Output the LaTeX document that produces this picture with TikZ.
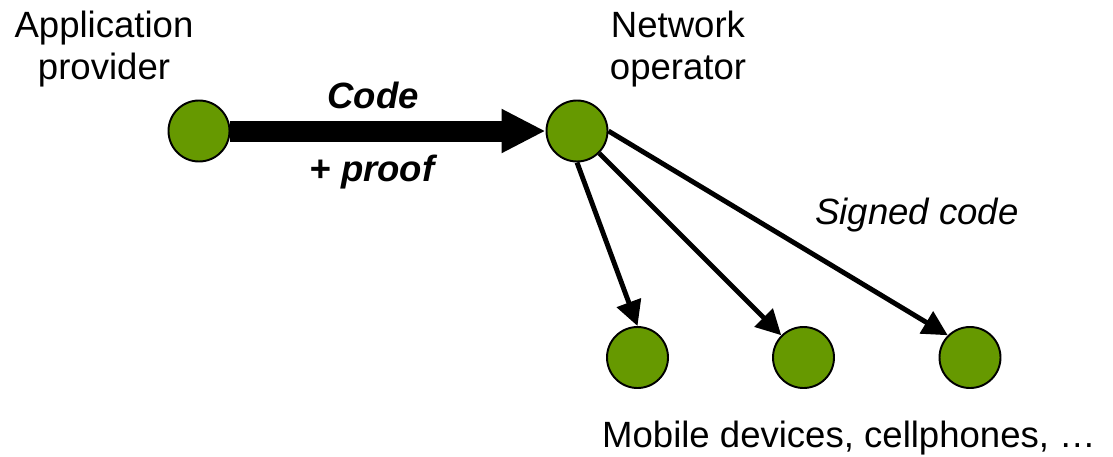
\documentclass[tikz,border=0pt]{standalone}
\usepackage{fontspec}
\setmainfont{Liberation Sans}
\usetikzlibrary{arrows.meta}
\definecolor{leaf}{HTML}{669900}
\tikzset{
	party/.style={circle, draw=black, line width=1.1pt, fill=leaf, minimum size=1.22cm, inner sep=0pt},
	caption/.style={align=center, font=\fontsize{20.8}{23.6}\selectfont},
	push/.style={line width=2.8pt, -{Triangle[length=0.5cm,width=0.5cm]}}
}
\begin{document}
\begin{tikzpicture}
				\useasboundingbox (0,0) rectangle (22.26,-9.12);
				% the parties
				\node[party] (prov) at (3.98,-2.62) {};
				\node[party] (op) at (11.54,-2.62) {};
				\node[party] (d1) at (12.75,-7.15) {};
				\node[party] (d2) at (16.07,-7.15) {};
				\node[party] (d3) at (19.4,-7.15) {};
				%
				\node[caption] (provlabel) at (2.08,-0.98) {Application\\provider};
				\node[caption] (oplabel) at (13.56,-0.98) {Network\\operator};
				\node[caption, font=\fontsize{20.8}{23.6}\selectfont\bfseries\itshape] (code) at (7.46,-1.9) {Code};
				\node[caption, font=\fontsize{20.8}{23.6}\selectfont\bfseries\itshape] (proof) at (7.44,-3.44) {+ proof};
				\node[caption, font=\fontsize{20.8}{23.6}\selectfont\itshape] (signed) at (18.34,-4.3) {Signed code};
				\node[caption, anchor=base] (devices) at (16.98,-8.94) {Mobile devices, cellphones, …};
				%
				\draw[line width=0.42cm, -{Triangle[length=0.88cm,width=0.82cm]}] (prov.east) -- (op.west);
				\draw[push] (op.south) -- (d1.north);
				\draw[push] (op.south east) -- (d2.north west);
				\draw[push] (op.east) -- (d3.north west);
			\end{tikzpicture}
\end{document}
